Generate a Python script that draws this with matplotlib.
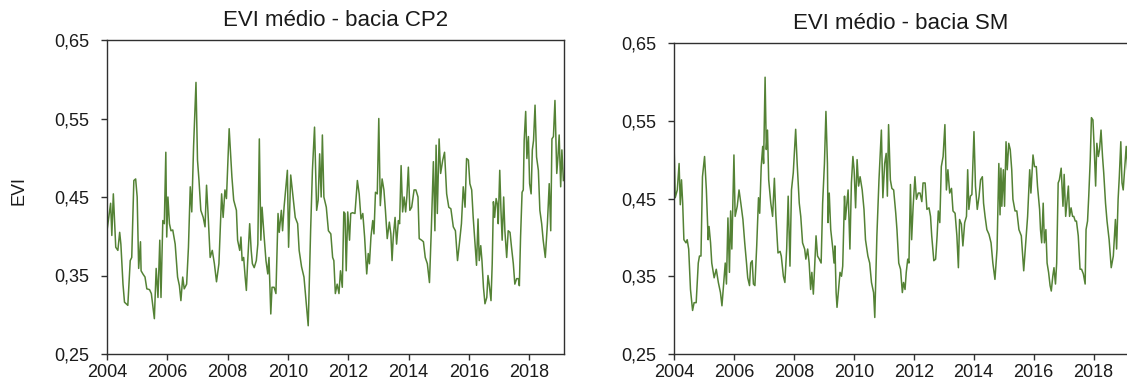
import matplotlib.pyplot as plt
from matplotlib.ticker import FuncFormatter

plt.rcParams['font.family'] = ['Liberation Sans', 'DejaVu Sans']

# EVI medio - bacia CP2 (decimal year, EVI)
cp2_year = [
    2004.00, 2004.12, 2004.16, 2004.21, 2004.25, 2004.29, 2004.36, 2004.42, 2004.46, 2004.53,
    2004.58, 2004.69, 2004.77, 2004.82, 2004.89, 2004.95, 2005.00, 2005.05, 2005.11, 2005.13,
    2005.19, 2005.26, 2005.32, 2005.41, 2005.47, 2005.57, 2005.63, 2005.69, 2005.75, 2005.79,
    2005.85, 2005.90, 2005.95, 2005.98, 2006.02, 2006.07, 2006.12, 2006.18, 2006.26, 2006.34,
    2006.40, 2006.45, 2006.51, 2006.56, 2006.64, 2006.70, 2006.76, 2006.81, 2006.87, 2006.95,
    2007.00, 2007.05, 2007.11, 2007.19, 2007.25, 2007.30, 2007.35, 2007.42, 2007.49, 2007.56,
    2007.63, 2007.71, 2007.80, 2007.85, 2007.91, 2007.96, 2008.05, 2008.14, 2008.20, 2008.29,
    2008.33, 2008.40, 2008.44, 2008.48, 2008.53, 2008.58, 2008.62, 2008.66, 2008.73, 2008.78,
    2008.82, 2008.88, 2008.95, 2009.00, 2009.05, 2009.10, 2009.14, 2009.21, 2009.27, 2009.33,
    2009.37, 2009.43, 2009.47, 2009.54, 2009.60, 2009.67, 2009.71, 2009.78, 2009.82, 2009.87,
    2009.92, 2009.98, 2010.02, 2010.09, 2010.18, 2010.24, 2010.32, 2010.37, 2010.45, 2010.53,
    2010.59, 2010.67, 2010.75, 2010.81, 2010.88, 2010.95, 2011.00, 2011.05, 2011.10, 2011.14,
    2011.19, 2011.27, 2011.34, 2011.42, 2011.48, 2011.52, 2011.57, 2011.63, 2011.69, 2011.74,
    2011.80, 2011.85, 2011.89, 2011.93, 2011.98, 2012.04, 2012.08, 2012.14, 2012.22, 2012.30,
    2012.36, 2012.42, 2012.48, 2012.54, 2012.61, 2012.66, 2012.70, 2012.75, 2012.81, 2012.85,
    2012.90, 2012.96, 2013.01, 2013.06, 2013.12, 2013.18, 2013.23, 2013.29, 2013.36, 2013.41,
    2013.45, 2013.49, 2013.55, 2013.60, 2013.66, 2013.70, 2013.75, 2013.80, 2013.85, 2013.90,
    2013.94, 2013.99, 2014.04, 2014.10, 2014.18, 2014.24, 2014.31, 2014.35, 2014.43, 2014.49,
    2014.55, 2014.62, 2014.69, 2014.75, 2014.82, 2014.87, 2014.91, 2014.95, 2015.01, 2015.06,
    2015.13, 2015.19, 2015.26, 2015.33, 2015.40, 2015.48, 2015.55, 2015.62, 2015.68, 2015.75,
    2015.81, 2015.87, 2015.92, 2015.98, 2016.03, 2016.09, 2016.14, 2016.20, 2016.25, 2016.30,
    2016.34, 2016.39, 2016.43, 2016.48, 2016.53, 2016.59, 2016.63, 2016.67, 2016.73, 2016.77,
    2016.81, 2016.85, 2016.90, 2016.94, 2016.97, 2017.02, 2017.06, 2017.10, 2017.15, 2017.19,
    2017.25, 2017.30, 2017.36, 2017.41, 2017.47, 2017.52, 2017.58, 2017.64, 2017.67, 2017.71,
    2017.76, 2017.80, 2017.83, 2017.88, 2017.92, 2017.97, 2018.01, 2018.06, 2018.10, 2018.14,
    2018.19, 2018.24, 2018.30, 2018.35, 2018.41, 2018.46, 2018.53, 2018.60, 2018.66, 2018.71,
    2018.75, 2018.80, 2018.85, 2018.91, 2018.95, 2018.99, 2019.04, 2019.08, 2019.13,
]
cp2_evi = [
    0.407, 0.442, 0.401, 0.454, 0.420, 0.386, 0.382, 0.405, 0.390, 0.339,
    0.316, 0.312, 0.369, 0.373, 0.471, 0.473, 0.450, 0.359, 0.393, 0.356,
    0.352, 0.348, 0.333, 0.332, 0.327, 0.295, 0.359, 0.322, 0.395, 0.322,
    0.420, 0.416, 0.507, 0.399, 0.450, 0.416, 0.407, 0.408, 0.390, 0.348,
    0.337, 0.318, 0.348, 0.333, 0.339, 0.386, 0.463, 0.431, 0.514, 0.596,
    0.497, 0.471, 0.433, 0.424, 0.412, 0.465, 0.429, 0.373, 0.382, 0.365,
    0.342, 0.365, 0.454, 0.424, 0.459, 0.448, 0.537, 0.476, 0.446, 0.433,
    0.395, 0.382, 0.399, 0.369, 0.373, 0.348, 0.331, 0.365, 0.416, 0.382,
    0.365, 0.360, 0.369, 0.390, 0.524, 0.395, 0.437, 0.399, 0.369, 0.352,
    0.373, 0.301, 0.335, 0.335, 0.327, 0.429, 0.405, 0.433, 0.407, 0.437,
    0.459, 0.484, 0.386, 0.478, 0.446, 0.424, 0.416, 0.382, 0.361, 0.348,
    0.322, 0.286, 0.407, 0.484, 0.539, 0.433, 0.446, 0.505, 0.450, 0.529,
    0.450, 0.437, 0.407, 0.403, 0.373, 0.369, 0.327, 0.339, 0.327, 0.356,
    0.335, 0.431, 0.429, 0.356, 0.431, 0.395, 0.429, 0.430, 0.429, 0.471,
    0.454, 0.422, 0.429, 0.399, 0.352, 0.378, 0.365, 0.399, 0.420, 0.403,
    0.456, 0.454, 0.550, 0.439, 0.473, 0.459, 0.433, 0.397, 0.418, 0.403,
    0.369, 0.399, 0.424, 0.390, 0.420, 0.416, 0.490, 0.431, 0.450, 0.431,
    0.450, 0.488, 0.433, 0.437, 0.459, 0.459, 0.450, 0.397, 0.395, 0.393,
    0.373, 0.365, 0.341, 0.407, 0.495, 0.407, 0.516, 0.429, 0.524, 0.480,
    0.497, 0.507, 0.454, 0.437, 0.435, 0.412, 0.407, 0.369, 0.390, 0.416,
    0.463, 0.437, 0.499, 0.497, 0.467, 0.459, 0.424, 0.390, 0.363, 0.422,
    0.369, 0.388, 0.369, 0.335, 0.314, 0.322, 0.350, 0.339, 0.318, 0.365,
    0.444, 0.424, 0.448, 0.441, 0.416, 0.484, 0.433, 0.395, 0.450, 0.407,
    0.373, 0.407, 0.405, 0.386, 0.365, 0.339, 0.346, 0.346, 0.337, 0.399,
    0.456, 0.459, 0.522, 0.559, 0.499, 0.527, 0.467, 0.454, 0.510, 0.522,
    0.567, 0.501, 0.484, 0.433, 0.416, 0.395, 0.373, 0.416, 0.467, 0.407,
    0.524, 0.527, 0.573, 0.480, 0.501, 0.529, 0.463, 0.510, 0.471,
]

# EVI medio - bacia SM (decimal year, EVI)
sm_year = [
    2004.00, 2004.04, 2004.11, 2004.17, 2004.21, 2004.25, 2004.29, 2004.33, 2004.40, 2004.44,
    2004.49, 2004.55, 2004.62, 2004.67, 2004.74, 2004.81, 2004.85, 2004.90, 2004.95, 2005.02,
    2005.08, 2005.14, 2005.17, 2005.22, 2005.26, 2005.34, 2005.41, 2005.48, 2005.55, 2005.60,
    2005.66, 2005.71, 2005.75, 2005.80, 2005.85, 2005.89, 2005.93, 2006.00, 2006.04, 2006.11,
    2006.17, 2006.23, 2006.30, 2006.36, 2006.42, 2006.46, 2006.52, 2006.56, 2006.61, 2006.65,
    2006.70, 2006.76, 2006.82, 2006.86, 2006.91, 2006.96, 2006.99, 2007.04, 2007.08, 2007.12,
    2007.16, 2007.23, 2007.29, 2007.35, 2007.40, 2007.47, 2007.54, 2007.58, 2007.65, 2007.70,
    2007.76, 2007.81, 2007.87, 2007.92, 2007.98, 2008.06, 2008.11, 2008.18, 2008.23, 2008.29,
    2008.36, 2008.40, 2008.46, 2008.51, 2008.56, 2008.60, 2008.65, 2008.69, 2008.74, 2008.79,
    2008.85, 2008.91, 2008.96, 2009.02, 2009.07, 2009.12, 2009.14, 2009.18, 2009.23, 2009.30,
    2009.34, 2009.37, 2009.41, 2009.44, 2009.49, 2009.54, 2009.59, 2009.63, 2009.69, 2009.72,
    2009.77, 2009.81, 2009.87, 2009.92, 2009.97, 2010.01, 2010.06, 2010.11, 2010.16, 2010.21,
    2010.28, 2010.34, 2010.39, 2010.47, 2010.53, 2010.59, 2010.66, 2010.70, 2010.77, 2010.84,
    2010.92, 2010.97, 2011.03, 2011.08, 2011.12, 2011.16, 2011.22, 2011.27, 2011.33, 2011.40,
    2011.44, 2011.50, 2011.56, 2011.62, 2011.66, 2011.71, 2011.75, 2011.80, 2011.84, 2011.89,
    2011.93, 2011.98, 2012.04, 2012.09, 2012.15, 2012.21, 2012.27, 2012.31, 2012.38, 2012.44,
    2012.51, 2012.56, 2012.60, 2012.67, 2012.73, 2012.78, 2012.82, 2012.87, 2012.92, 2012.98,
    2013.04, 2013.09, 2013.14, 2013.20, 2013.26, 2013.31, 2013.38, 2013.44, 2013.49, 2013.53,
    2013.59, 2013.64, 2013.70, 2013.76, 2013.80, 2013.84, 2013.89, 2013.94, 2014.01, 2014.06,
    2014.12, 2014.18, 2014.23, 2014.29, 2014.33, 2014.38, 2014.44, 2014.51, 2014.58, 2014.64,
    2014.71, 2014.78, 2014.84, 2014.88, 2014.91, 2014.94, 2014.99, 2015.03, 2015.08, 2015.12,
    2015.17, 2015.22, 2015.27, 2015.31, 2015.38, 2015.44, 2015.51, 2015.59, 2015.67, 2015.73,
    2015.80, 2015.87, 2015.91, 2015.98, 2016.03, 2016.09, 2016.13, 2016.20, 2016.23, 2016.27,
    2016.32, 2016.36, 2016.41, 2016.45, 2016.50, 2016.55, 2016.59, 2016.64, 2016.68, 2016.73,
    2016.77, 2016.82, 2016.86, 2016.92, 2016.98, 2017.02, 2017.07, 2017.11, 2017.16, 2017.20,
    2017.25, 2017.30, 2017.34, 2017.39, 2017.43, 2017.49, 2017.55, 2017.60, 2017.66, 2017.72,
    2017.75, 2017.80, 2017.84, 2017.89, 2017.93, 2017.98, 2018.02, 2018.07, 2018.11, 2018.16,
    2018.20, 2018.25, 2018.30, 2018.34, 2018.40, 2018.45, 2018.52, 2018.59, 2018.66, 2018.73,
    2018.77, 2018.82, 2018.86, 2018.91, 2018.95, 2018.99, 2019.05, 2019.09, 2019.14,
]
sm_evi = [
    0.523, 0.451, 0.461, 0.495, 0.442, 0.474, 0.444, 0.397, 0.393, 0.397,
    0.385, 0.333, 0.306, 0.316, 0.316, 0.367, 0.376, 0.376, 0.478, 0.504,
    0.461, 0.397, 0.414, 0.393, 0.367, 0.348, 0.359, 0.342, 0.329, 0.312,
    0.342, 0.367, 0.340, 0.425, 0.355, 0.434, 0.385, 0.506, 0.427, 0.440,
    0.461, 0.444, 0.423, 0.393, 0.367, 0.348, 0.338, 0.367, 0.370, 0.340,
    0.338, 0.389, 0.451, 0.431, 0.491, 0.517, 0.495, 0.606, 0.513, 0.538,
    0.474, 0.444, 0.427, 0.476, 0.427, 0.380, 0.382, 0.376, 0.350, 0.342,
    0.385, 0.453, 0.363, 0.461, 0.483, 0.539, 0.495, 0.444, 0.427, 0.393,
    0.385, 0.372, 0.385, 0.367, 0.333, 0.355, 0.327, 0.359, 0.402, 0.376,
    0.372, 0.367, 0.444, 0.495, 0.562, 0.495, 0.419, 0.457, 0.410, 0.385,
    0.367, 0.389, 0.329, 0.310, 0.333, 0.355, 0.350, 0.363, 0.453, 0.423,
    0.444, 0.461, 0.385, 0.470, 0.504, 0.487, 0.438, 0.500, 0.466, 0.478,
    0.461, 0.436, 0.397, 0.376, 0.367, 0.342, 0.329, 0.297, 0.402, 0.474,
    0.538, 0.451, 0.495, 0.508, 0.453, 0.545, 0.474, 0.463, 0.461, 0.431,
    0.410, 0.367, 0.359, 0.329, 0.342, 0.333, 0.355, 0.372, 0.367, 0.468,
    0.397, 0.440, 0.478, 0.449, 0.457, 0.457, 0.446, 0.470, 0.470, 0.436,
    0.438, 0.427, 0.402, 0.370, 0.372, 0.402, 0.434, 0.419, 0.491, 0.504,
    0.545, 0.461, 0.487, 0.457, 0.463, 0.434, 0.431, 0.402, 0.361, 0.423,
    0.417, 0.389, 0.419, 0.427, 0.487, 0.436, 0.453, 0.455, 0.536, 0.466,
    0.436, 0.453, 0.474, 0.478, 0.444, 0.427, 0.410, 0.404, 0.393, 0.367,
    0.346, 0.385, 0.495, 0.429, 0.489, 0.440, 0.487, 0.440, 0.523, 0.487,
    0.521, 0.513, 0.487, 0.449, 0.434, 0.434, 0.410, 0.402, 0.357, 0.389,
    0.427, 0.487, 0.457, 0.506, 0.491, 0.491, 0.466, 0.436, 0.410, 0.393,
    0.444, 0.393, 0.410, 0.367, 0.355, 0.338, 0.331, 0.350, 0.361, 0.340,
    0.367, 0.470, 0.474, 0.489, 0.440, 0.481, 0.427, 0.444, 0.466, 0.427,
    0.438, 0.427, 0.427, 0.421, 0.421, 0.402, 0.359, 0.359, 0.353, 0.340,
    0.410, 0.421, 0.453, 0.500, 0.554, 0.551, 0.517, 0.466, 0.521, 0.504,
    0.513, 0.538, 0.504, 0.483, 0.444, 0.421, 0.397, 0.361, 0.376, 0.423,
    0.385, 0.449, 0.478, 0.523, 0.470, 0.461, 0.495, 0.517, 0.487,
]

year_ticks = [2004, 2006, 2008, 2010, 2012, 2014, 2016, 2018]
evi_ticks = [0.25, 0.35, 0.45, 0.55, 0.65]
titles = ['EVI médio - bacia CP2', 'EVI médio - bacia SM']

line_color = '#548235'
spine_color = '#303030'

fig = plt.figure(figsize=(11.27, 3.92), dpi=100)
W, H = 1127, 392
ax1 = fig.add_axes([107 / W, 38 / H, 457 / W, 314 / H])
ax2 = fig.add_axes([674 / W, 38 / H, 454 / W, 311 / H])

comma = FuncFormatter(lambda v, p: f'{v:.2f}'.replace('.', ','))

for ax, years, evi, title in [(ax1, cp2_year, cp2_evi, titles[0]),
                              (ax2, sm_year, sm_evi, titles[1])]:
    ax.plot(years, evi, color=line_color, linewidth=1.1)
    ax.set_xlim(2004, 2019.15)
    ax.set_ylim(0.25, 0.65)
    ax.set_xticks(year_ticks)
    ax.set_yticks(evi_ticks)
    ax.yaxis.set_major_formatter(comma)
    ax.tick_params(direction='out', length=4, width=1, colors=spine_color,
                   labelcolor='#1a1a1a', labelsize=13)
    ax.tick_params(axis='y', pad=9)
    ax.tick_params(axis='x', pad=3)
    for s in ax.spines.values():
        s.set_color(spine_color)
        s.set_linewidth(1.0)
    ax.set_title(title, fontsize=16, pad=10, color='#1a1a1a')

ax1.set_ylabel('EVI', fontsize=13, color='#1a1a1a')
ax1.yaxis.set_label_coords(-0.175, 0.52)

fig.savefig('out.png', dpi=100)
